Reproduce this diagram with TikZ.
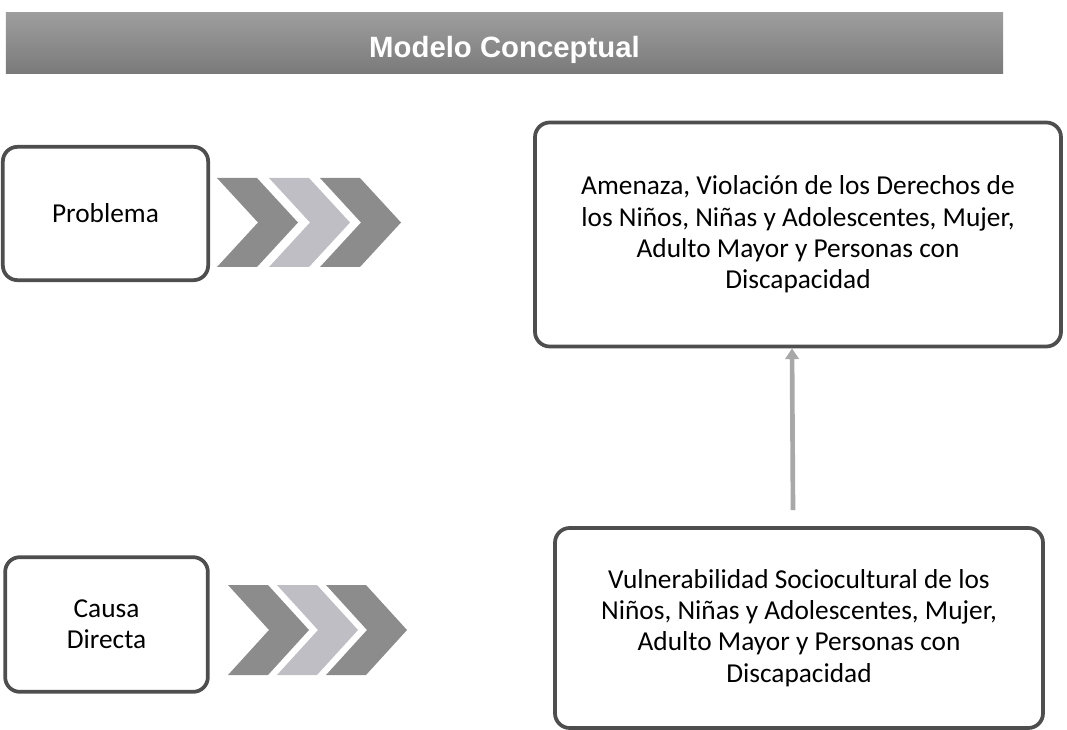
\documentclass[tikz,border=0pt]{standalone}
\usepackage{fontspec}
\setmainfont{Carlito}
\newfontfamily\titulofont{Liberation Sans}
\usetikzlibrary{arrows.meta,shadings}

\definecolor{barraSup}{RGB}{158,158,158}
\definecolor{barraInf}{RGB}{122,122,122}
\definecolor{bordeCaja}{RGB}{78,78,78}
\definecolor{chevOscuro}{RGB}{140,140,140}
\definecolor{chevClaro}{RGB}{190,190,196}
\definecolor{flechaGris}{RGB}{168,168,168}

\begin{document}
\begin{tikzpicture}[x=0.75pt, y=-0.75pt]  % 1 unit = 1 px of the 1067 x 730 layout, y downwards

    % Common styles
    \tikzset{
        barra/.style={top color=barraSup, bottom color=barraInf, minimum width=748pt, minimum height=46pt, inner sep=0pt, text height=22pt, text depth=0pt, text=white, font=\titulofont\bfseries\fontsize{22}{26}\selectfont},
        caja/.style={draw=bordeCaja, line width=2.8pt, rounded corners=11pt, fill=white, align=center, inner sep=0pt, font=\fontsize{20.5}{23.5}\selectfont},
        flecha/.style={draw=flechaGris, line width=3.5pt, -{Triangle[length=8pt, width=10pt]}}
    }

    \useasboundingbox (0,0) rectangle (1067,730);

    % Title bar
    \node[barra] (titulo) at (504.5,43) {Modelo Conceptual};

    % Left boxes
    \node[caja, minimum width=154pt, minimum height=100pt] (problema) at (105.5,213.5) {Problema};
    \node[caja, minimum width=152pt, minimum height=101pt] (causa) at (106.5,624.5) {Causa\\Directa};

    % Chevrons (upper row)
    \foreach \x/\col in {217/chevOscuro, 269/chevClaro, 320/chevOscuro}
        \fill[\col] (\x,178) -- ++(40,0) -- ++(41,44.5) -- ++(-41,44.5) -- ++(-40,0) -- ++(41,-44.5) -- cycle;

    % Chevrons (lower row)
    \foreach \x/\col in {228/chevOscuro, 277/chevClaro, 326/chevOscuro}
        \fill[\col] (\x,585) -- ++(40,0) -- ++(41,45) -- ++(-41,45) -- ++(-40,0) -- ++(41,-45) -- cycle;

    % Right boxes
    \node[caja, minimum width=394.5pt, minimum height=168pt] (amenaza) at (798,234.5)
        {Amenaza, Violación de los Derechos de\\los Niños, Niñas y Adolescentes, Mujer,\\Adulto Mayor y Personas con\\Discapacidad};
    \node[caja, minimum width=366pt, minimum height=150pt] (vulnerabilidad) at (799,628)
        {Vulnerabilidad Sociocultural de los\\Niños, Niñas y Adolescentes, Mujer,\\Adulto Mayor y Personas con\\Discapacidad};

    % Cause -> problem
    \draw[flecha] ([xshift=-4.5pt, yshift=12pt]vulnerabilidad.north) -- ([xshift=-4.5pt]amenaza.south);

\end{tikzpicture}
\end{document}
